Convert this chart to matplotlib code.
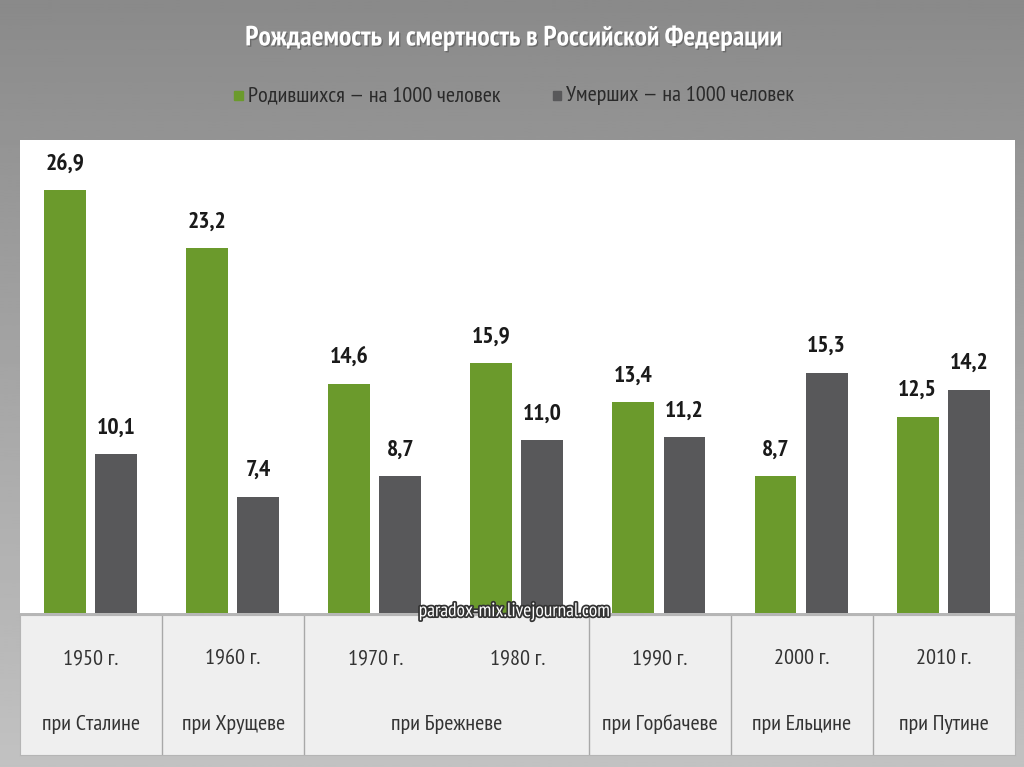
import matplotlib.pyplot as plt
import matplotlib.patheffects as pe
import numpy as np
from matplotlib import font_manager

# Data
years = ["1950 г.", "1960 г.", "1970 г.", "1980 г.", "1990 г.", "2000 г.", "2010 г."]
births = [26.9, 23.2, 14.6, 15.9, 13.4, 8.7, 12.5]
deaths = [10.1, 7.4, 8.7, 11.0, 11.2, 15.3, 14.2]
rulers = ["при Сталине", "при Хрущеве", "при Брежневе", "при Горбачеве", "при Ельцине", "при Путине"]
ruler_spans = [(0, 0), (1, 1), (2, 3), (4, 4), (5, 5), (6, 6)]  # first/last year index

title = "Рождаемость и смертность в Российской Федерации"
label_births = "Родившихся — на 1000 человек"
label_deaths = "Умерших — на 1000 человек"

green = "#6b9a2c"
gray = "#58585a"

# pick a narrow font with cyrillic if one is there
names = {f.name for f in font_manager.fontManager.ttflist}
narrow = "DejaVu Sans"
for cand in ["Arial Narrow", "Liberation Sans Narrow", "PT Sans Narrow", "Roboto Condensed",
             "Fira Sans Condensed", "IBM Plex Sans Condensed", "Open Sans Condensed"]:
    if cand in names:
        narrow = cand
        break
plt.rcParams["font.family"] = [narrow, "DejaVu Sans"]

fig = plt.figure(figsize=(10.24, 7.67), dpi=100)

# gray gradient background
bg = fig.add_axes([0, 0, 1, 1], zorder=-10)
grad = np.linspace(0.54, 0.76, 256).reshape(-1, 1)
bg.imshow(grad, cmap="gray", vmin=0, vmax=1, aspect="auto", extent=[0, 1, 0, 1], origin="upper")
bg.axis("off")

# title and legend
fig.text(0.503, 0.950, title, ha="center", va="center", color="white", fontsize=20,
         fontweight="bold",
         path_effects=[pe.withSimplePatchShadow(offset=(1, -1), shadow_rgbFace="#555555", alpha=0.6)])
fig.patches.append(plt.Rectangle((0.229, 0.869), 0.008, 0.012, transform=fig.transFigure,
                                 color=green, figure=fig))
fig.text(0.242, 0.875, label_births, ha="left", va="center", color="#2a2a2a", fontsize=16)
fig.patches.append(plt.Rectangle((0.540, 0.869), 0.008, 0.012, transform=fig.transFigure,
                                 color=gray, figure=fig))
fig.text(0.553, 0.875, label_deaths, ha="left", va="center", color="#2a2a2a", fontsize=16)

# main bars
ax = fig.add_axes([0.0195, 0.2008, 0.9717, 0.6167])
ax.set_facecolor("white")
x = np.arange(len(years))
w = 0.295
ax.bar(x - 0.185, births, width=w, color=green)
ax.bar(x + 0.175, deaths, width=w, color=gray)
for xi, b, d in zip(x, births, deaths):
    ax.text(xi - 0.185, b + 1.0, f"{b:.1f}".replace(".", ","), ha="center", va="bottom",
            fontsize=17, fontweight="bold", color="#1a1a1a")
    ax.text(xi + 0.175, d + 1.0, f"{d:.1f}".replace(".", ","), ha="center", va="bottom",
            fontsize=17, fontweight="bold", color="#1a1a1a")
ax.set_xlim(-0.5, len(years) - 0.5)
ax.set_ylim(0, 30.1)
ax.set_xticks([])
ax.set_yticks([])
for s in ax.spines.values():
    s.set_visible(False)

# table below
tb = fig.add_axes([0.0195, 0.0156, 0.9717, 0.1825])
tb.set_facecolor("#efefef")
tb.set_xlim(-0.5, len(years) - 0.5)
tb.set_ylim(0, 1)
tb.set_xticks([])
tb.set_yticks([])
for s in tb.spines.values():
    s.set_color("#b5b5b5")
for name, (a, b) in zip(rulers, ruler_spans):
    tb.text((a + b) / 2, 0.22, name, ha="center", va="center", fontsize=16, color="#333333")
    if b < len(years) - 1:
        tb.axvline(b + 0.5, color="#a8a8a8", lw=1)
for xi, yr in zip(x, years):
    tb.text(xi, 0.69, yr, ha="center", va="center", fontsize=16, color="#333333")

# watermark
fig.text(0.503, 0.203, "paradox-mix.livejournal.com", ha="center", va="center",
         color="white", fontsize=14,
         path_effects=[pe.withStroke(linewidth=2.5, foreground="#333333")])

fig.savefig("out.png", dpi=100)
